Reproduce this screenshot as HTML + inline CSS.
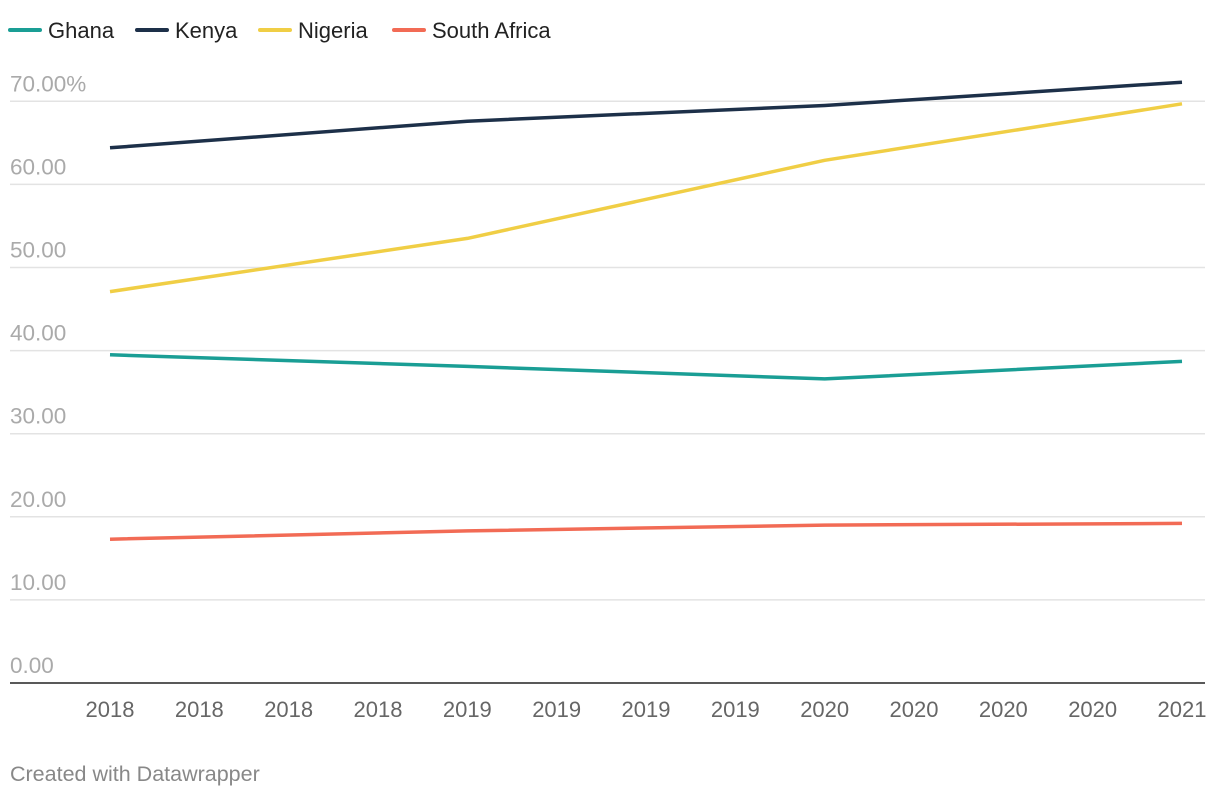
<!DOCTYPE html>
<html><head><meta charset="utf-8"><style>
body{margin:0;background:#fff;font-family:"Liberation Sans",sans-serif;}
svg text{font-family:"Liberation Sans",sans-serif;}
</style></head><body>
<svg id="chart" width="1220" height="800" viewBox="0 0 1220 800" xmlns="http://www.w3.org/2000/svg">
<g id="legend"></g>
<g id="grid"></g>
<g id="ylabels"></g>
<g id="xlabels"></g>
<g id="lines"></g>
<text x="10" y="781" font-size="21.5" fill="#888">Created with Datawrapper</text>
</svg>
<script>
const xTickLabels = ["2018","2018","2018","2018","2019","2019","2019","2019","2020","2020","2020","2020","2021"];
const pointIndex = [0,4,8,12];
const seriesNames = ["Ghana","Kenya","Nigeria","South Africa"];
const ghana = [39.5,38.1,36.6,38.7];
const kenya = [64.4,67.6,69.5,72.3];
const nigeria = [47.1,53.5,62.9,69.7];
const southAfrica = [17.3,18.3,19.0,19.2];
const yTicks = [0,10,20,30,40,50,60,70];
const colors = ["#1a9e95","#1d3049","#f0ce45","#f26b55"];
const NS="http://www.w3.org/2000/svg";
const x = i => 110 + i*(1182-110)/12;
const y = v => 683 - v*8.31;
function mk(tag, attrs, parent){const e=document.createElementNS(NS,tag);for(const k in attrs)e.setAttribute(k,attrs[k]);parent.appendChild(e);return e;}
const grid=document.getElementById('grid'), yl=document.getElementById('ylabels'), xl=document.getElementById('xlabels'), lines=document.getElementById('lines'), legend=document.getElementById('legend');
yTicks.forEach(t=>{
  if(t>0){const l=mk('line',{x1:10,x2:1205,y1:y(t),y2:y(t),stroke:'#e3e3e3','stroke-width':1.5},grid);
  
  }
  const tx=mk('text',{x:10,y:y(t)-10,'font-size':22.5,fill:'#aaa'},yl);
  tx.textContent = t===70 ? '70.00%' : t.toFixed(2);
  
  
});
const ax=mk('line',{x1:10,x2:1205,y1:683,y2:683,stroke:'#222','stroke-width':1.5},grid);


xTickLabels.forEach((s,i)=>{
  const tx=mk('text',{x:x(i),y:717,'font-size':22,fill:'#666','text-anchor':'middle'},xl);
  tx.textContent=s;
  
  
});
[ghana,kenya,nigeria,southAfrica].forEach((vals,s)=>{
  const pts=vals.map((v,k)=>x(pointIndex[k]).toFixed(1)+','+y(v).toFixed(1)).join(' ');
  const p=mk('polyline',{points:pts,fill:'none',stroke:colors[s],'stroke-width':3.5,'stroke-linejoin':'round'},lines);
  
  
});
const legX=[10,137,260,394];
seriesNames.forEach((n,s)=>{
  const g=mk('g',{},legend);
  
  
  mk('line',{x1:legX[s],x2:legX[s]+30,y1:30,y2:30,stroke:colors[s],'stroke-width':4,'stroke-linecap':'round'},g);
  const t=mk('text',{x:legX[s]+38,y:38,'font-size':22,fill:'#222'},g);
  t.textContent=n;
});
</script>
</body></html>
